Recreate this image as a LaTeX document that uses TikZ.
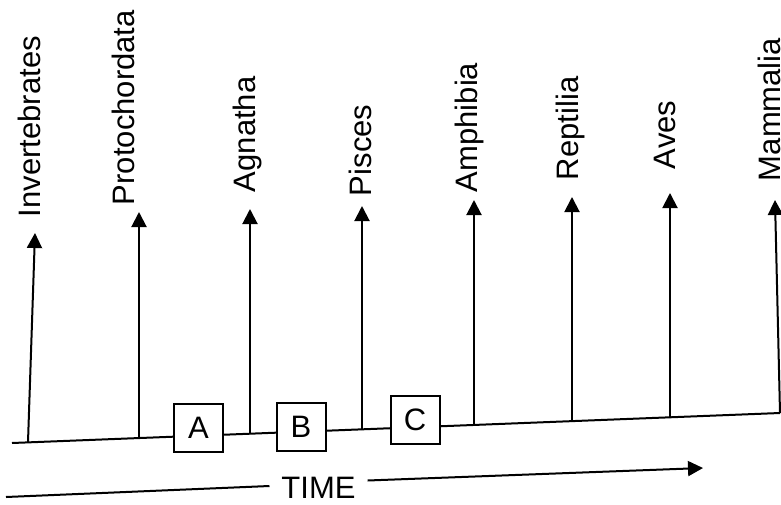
\documentclass[tikz,border=0pt]{standalone}
\usepackage{fontspec}
\setmainfont{Liberation Sans}
\usetikzlibrary{arrows.meta}

\begin{document}
\begin{tikzpicture}[x=0.5pt, y=-0.5pt, line width=1pt,
    >={Triangle[width=7.5pt,length=7.5pt]},
    every node/.style={font=\fontsize{15.5}{18.5}\selectfont, inner sep=0pt},
    taxon/.style={rotate=90, anchor=west},
    gapbox/.style={draw, fill=white, minimum width=24.5pt, minimum height=24pt}]
  \useasboundingbox (0,0) rectangle (781,504);
  % main line, branches leave it upwards
  \coordinate (line-s) at (12,443);
  \coordinate (line-e) at (780,413);
  \draw (line-s) -- (line-e);
  \foreach \name/\bx/\by/\tx/\ty/\lx/\ly/\txt in {
      inv/28/442/35/233/29.5/218/Invertebrates,
      pro/139/438/139/212/123.5/206/Protochordata,
      agn/250/434/250/209/247.5/193/Agnatha,
      pis/362/430/362/206/360/197/Pisces,
      amp/474/425/474/200/469.5/193/Amphibia,
      rep/572/422/572/197/570/181/Reptilia,
      ave/670/418/670/193/665/170/Aves,
      mam/780/413/775/200/769.5/182/Mammalia} {
    \coordinate (b-\name) at (\bx,\by);
    \coordinate (t-\name) at (\tx,\ty);
    \node[taxon] (l-\name) at (\lx,\ly) {\txt};
    \draw[->] (b-\name) -- (t-\name);
  }
  \node[gapbox] (A) at (198.5,428) {A};
  \node[gapbox] (B) at (301,426.5) {B};
  \node[gapbox] (C) at (415,420) {C};
  % time axis
  \coordinate (time-s) at (6,497);
  \coordinate (time-e) at (703,468);
  \node[inner xsep=5.5pt] (time) at (318.5,487.5) {TIME};
  \draw (time-s) -- ([yshift=0.75pt]time.west);
  \draw[->] ([yshift=3.5pt]time.east) -- (time-e);
\end{tikzpicture}
\end{document}
